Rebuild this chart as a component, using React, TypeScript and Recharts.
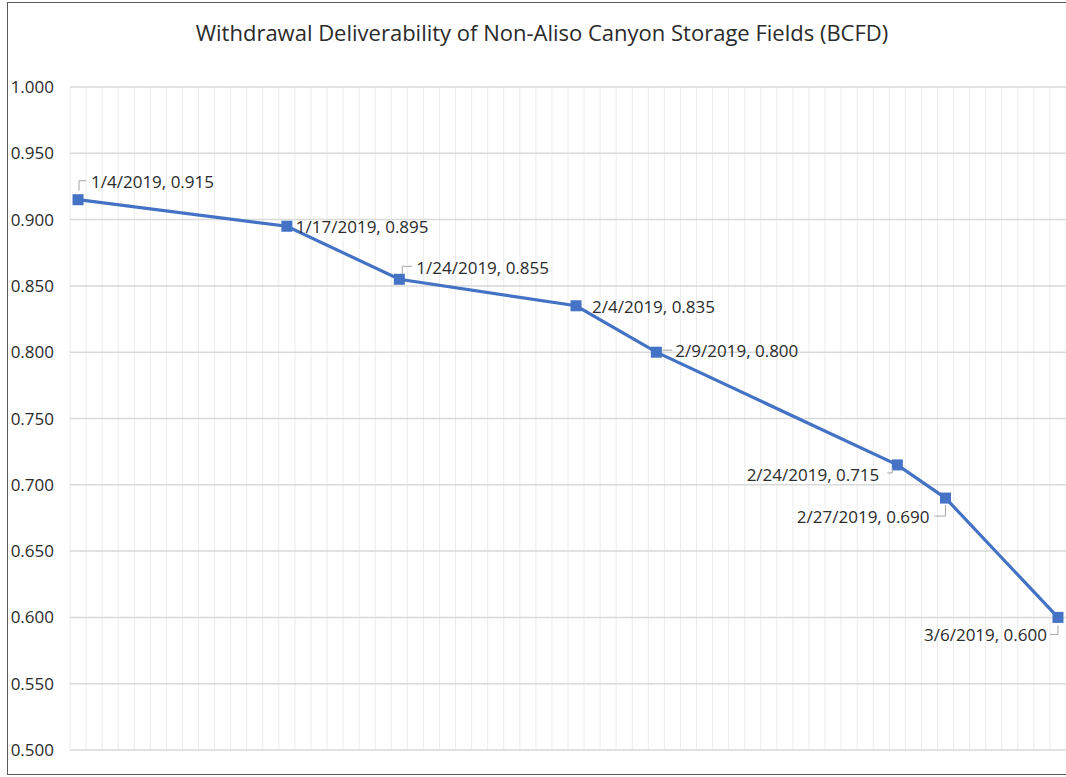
import React from "react";
import { CartesianGrid, LabelList, Line, LineChart, ReferenceLine, XAxis, YAxis } from "recharts";

const dates = ["1/4/2019", "1/17/2019", "1/24/2019", "2/4/2019", "2/9/2019", "2/24/2019", "2/27/2019", "3/6/2019"];
const deliverability = [0.915, 0.895, 0.855, 0.835, 0.8, 0.715, 0.69, 0.6];
const yTicks = [0.5, 0.55, 0.6, 0.65, 0.7, 0.75, 0.8, 0.85, 0.9, 0.95, 1.0];

const toDay = (s: string) => {
  const [m, d, y] = s.split("/").map(Number);
  return Date.UTC(y, m - 1, d) / 86400000;
};

const data = dates.map((d, i) => ({ date: d, day: toDay(d), value: deliverability[i] }));
const firstDay = data[0].day - 0.5;
const lastDay = data[data.length - 1].day + 0.5;
// one gridline per day boundary
const dayLines = Array.from({ length: lastDay - firstDay + 1 }, (_, i) => firstDay + i);

// label placement relative to the point: text anchor, dx, dy, leader path
const labelPos = [
  { anchor: "start", dx: 13, dy: -18, leader: [[1, -9], [1, -19], [8, -19]] },
  { anchor: "start", dx: 9, dy: 0, leader: null },
  { anchor: "start", dx: 17, dy: -12, leader: [[3, -5], [3, -13], [13, -13]] },
  { anchor: "start", dx: 16, dy: 1, leader: null },
  { anchor: "start", dx: 19, dy: -2, leader: [[6, -2], [16, -2]] },
  { anchor: "end", dx: -18, dy: 10, leader: [[-10, 8], [-5, 8], [-5, 3]] },
  { anchor: "end", dx: -16, dy: 18, leader: [[-11, 18], [0, 18], [0, 7]] },
  { anchor: "end", dx: -11, dy: 17, leader: [[-8, 17], [0, 17], [0, 8]] },
];

const BLUE = "#4472C4";
const TEXT = "#2b2b2b";
const FONT = "'Open Sans', sans-serif";

const renderLabel = (props: any) => {
  const { x, y, index } = props;
  const p = labelPos[index];
  const d = data[index];
  return (
    <g key={`lbl-${index}`}>
      {p.leader && (
        <polyline
          points={p.leader.map(([a, b]) => `${x + a},${y + b}`).join(" ")}
          fill="none"
          stroke="#a6a6a6"
          strokeWidth={1}
        />
      )}
      <text
        x={x + p.dx}
        y={y + p.dy}
        textAnchor={p.anchor as any}
        dominantBaseline="central"
        fontSize={17}
        fontFamily={FONT}
        fill={TEXT}
      >
        {`${d.date}, ${d.value.toFixed(3)}`}
      </text>
    </g>
  );
};

const squareDot = (props: any) => {
  const { cx, cy, index } = props;
  return <rect key={`dot-${index}`} x={cx - 5.5} y={cy - 5.5} width={11} height={11} fill={BLUE} />;
};

export default function App() {
  return (
    <div style={{ position: "absolute", left: 0, top: 0, width: 1066, height: 777, overflow: "hidden", background: "#fff" }}>
      <div
        style={{
          position: "absolute",
          left: 7,
          top: 2,
          width: 1070,
          height: 771,
          border: "1.5px solid #595959",
        }}
      />
      <div
        style={{
          position: "absolute",
          left: 0,
          top: 17,
          width: 1084,
          textAlign: "center",
          fontFamily: FONT,
          fontSize: 22,
          lineHeight: "30px",
          color: TEXT,
        }}
      >
        Withdrawal Deliverability of Non-Aliso Canyon Storage Fields (BCFD)
      </div>
      <div style={{ position: "absolute", left: 0, top: 0 }}>
        <LineChart width={1066} height={777} data={data} margin={{ top: 87, right: 0, bottom: 26, left: 8 }}>
          <CartesianGrid horizontal={false} stroke="#ececec" strokeWidth={1} />
          <XAxis
            dataKey="day"
            type="number"
            domain={[firstDay, lastDay]}
            ticks={dayLines}
            interval={0}
            tick={() => null}
            tickLine={false}
            axisLine={false}
            height={1}
          />
          <YAxis
            type="number"
            domain={[0.5, 1.0]}
            ticks={yTicks}
            tickFormatter={(v: number) => v.toFixed(3)}
            axisLine={false}
            tickLine={false}
            tickSize={0}
            tickMargin={16}
            width={62}
            tick={{ fill: TEXT, fontSize: 17, fontFamily: FONT }}
          />
          {yTicks.map((t) => (
            <ReferenceLine key={t} y={t} stroke="#d9d9d9" strokeWidth={1.5} />
          ))}
          <Line
            type="linear"
            dataKey="value"
            stroke={BLUE}
            strokeWidth={3.2}
            dot={squareDot}
            activeDot={false}
            isAnimationActive={false}
          >
            <LabelList dataKey="value" content={renderLabel} />
          </Line>
        </LineChart>
      </div>
    </div>
  );
}
